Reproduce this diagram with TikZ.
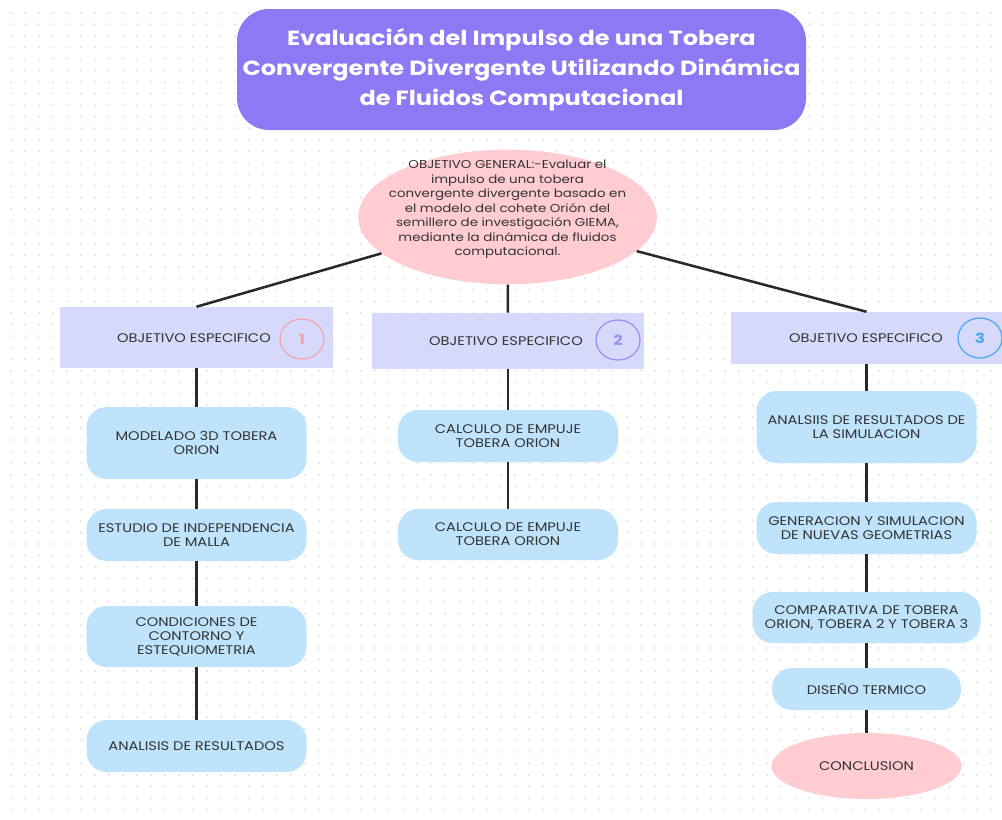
\documentclass[tikz,border=0pt]{standalone}
\usepackage{fontspec}
\setmainfont{Poppins}[FakeStretch=1.17]
\usetikzlibrary{shapes.geometric}
\definecolor{titlefill}{HTML}{8F78F4}
\definecolor{pinkfill}{HTML}{FFCCD2}
\definecolor{headfill}{HTML}{D7D9FB}
\definecolor{taskfill}{HTML}{C0E3FC}
\definecolor{ink}{HTML}{333333}
\definecolor{dotgray}{HTML}{DEDEDE}
\definecolor{numone}{HTML}{F4A3AA}
\definecolor{numtwo}{HTML}{9D8DF5}
\definecolor{numthree}{HTML}{4BA7F5}
\tikzset{
  link/.style={line width=1.9pt, draw=ink!80!black},
  task/.style={fill=taskfill, rounded corners=15pt, text=ink, align=center,
    font=\fontsize{9.4}{10.5}\selectfont, inner sep=0pt},
  head/.style={fill=headfill, text=ink, font=\fontsize{9.4}{11}\selectfont, inner sep=0pt},
  num/.style={ellipse, draw=#1, line width=0.9pt, text=#1, minimum width=33pt,
    minimum height=30pt, inner sep=0pt, font=\fontsize{10.5}{12}\selectfont\bfseries},
  blob/.style={ellipse, fill=pinkfill, text=ink, align=center, inner sep=0pt}
}
\begin{document}
\begin{tikzpicture}[x=0.75pt,y=-0.75pt]
\useasboundingbox (0,0) rectangle (1002,819);
% dotted paper
\foreach \i in {0,...,71}
  \foreach \j in {0,...,69}
    \fill[dotgray] (11+14*\i,12.7+11.55*\j) circle (0.8pt);

% title
\node[fill=titlefill, rounded corners=24pt, minimum width=426.75pt, minimum height=90.75pt,
  text=white, align=center, font=\fontsize{15.4}{22.5}\selectfont\bfseries] (title) at (521.5,69.5)
  {Evaluación del Impulso de una Tobera\\Convergente Divergente Utilizando Dinámica\\de Fluidos Computacional};

% objetivo general
\node[blob, minimum width=224pt, minimum height=101pt] (gen) at (507.5,217) {};
\node[text=ink, align=center, inner sep=0pt, font=\fontsize{8.6}{10.9}\selectfont] at (507.5,209.5)
  {OBJETIVO GENERAL:-Evaluar el\\impulso de una tobera\\convergente divergente basado en\\el modelo del cohete Orión del\\semillero de investigación GIEMA,\\mediante la dinámica de fluidos\\computacional.};

% objetivos especificos
\node[head, minimum width=204.75pt, minimum height=45.75pt] (h1) at (196.5,337.5) {};
\node[head] at (194,338) {OBJETIVO ESPECIFICO};
\node[num=numone] (n1) at (302,339) {1};
\node[head, minimum width=204pt, minimum height=42pt] (h2) at (508,341) {};
\node[head] at (506,341) {OBJETIVO ESPECIFICO};
\node[num=numtwo] (n2) at (618,340) {2};
\node[head, minimum width=203.25pt, minimum height=39pt] (h3) at (866.5,338) {};
\node[head] at (866,338) {OBJETIVO ESPECIFICO};
\node[num=numthree] (n3) at (980,338) {3};

% columna 1
\node[task, minimum width=165pt, minimum height=54pt] (a1) at (196.5,443) {MODELADO 3D TOBERA\\ORION};
\node[task, minimum width=165pt, minimum height=39pt] (a2) at (196.5,535) {ESTUDIO DE INDEPENDENCIA\\DE MALLA};
\node[task, minimum width=165pt, minimum height=45.75pt] (a3) at (196.5,636.5) {CONDICIONES DE\\CONTORNO Y\\ESTEQUIOMETRIA};
\node[task, minimum width=165pt, minimum height=39pt] (a4) at (196.5,746) {ANALISIS DE RESULTADOS};

% columna 2
\node[task, minimum width=165pt, minimum height=39pt] (b1) at (508,436) {CALCULO DE EMPUJE\\TOBERA ORION};
\node[task, minimum width=165pt, minimum height=38.25pt] (b2) at (508,534.5) {CALCULO DE EMPUJE\\TOBERA ORION};

% columna 3
\node[task, minimum width=165pt, minimum height=54pt] (c1) at (866.5,427) {ANALSIIS DE RESULTADOS DE\\LA SIMULACION};
\node[task, minimum width=165pt, minimum height=39pt] (c2) at (866.5,528) {GENERACION Y SIMULACION\\DE NUEVAS GEOMETRIAS};
\node[task, minimum width=171pt, minimum height=38.25pt] (c3) at (866.5,617.5) {COMPARATIVA DE TOBERA\\ORION, TOBERA 2 Y TOBERA 3};
\node[task, minimum width=141.75pt, minimum height=31.5pt] (c4) at (866.5,689) {DISEÑO TERMICO};
\node[blob, minimum width=142.5pt, minimum height=49.5pt, font=\fontsize{9.4}{10.5}\selectfont] (c5) at (866.5,766) {CONCLUSION};

% conectores
\draw[link] (gen) -- (h1.north);
\draw[link] (gen) -- (h2);
\draw[link] (gen) -- (h3.north);
\foreach \p/\q in {h1/a1,a1/a2,a2/a3,a3/a4,h2/b1,b1/b2,h3/c1,c1/c2,c2/c3,c3/c4,c4/c5}
  \draw[link] (\p) -- (\q);
\end{tikzpicture}
\end{document}
